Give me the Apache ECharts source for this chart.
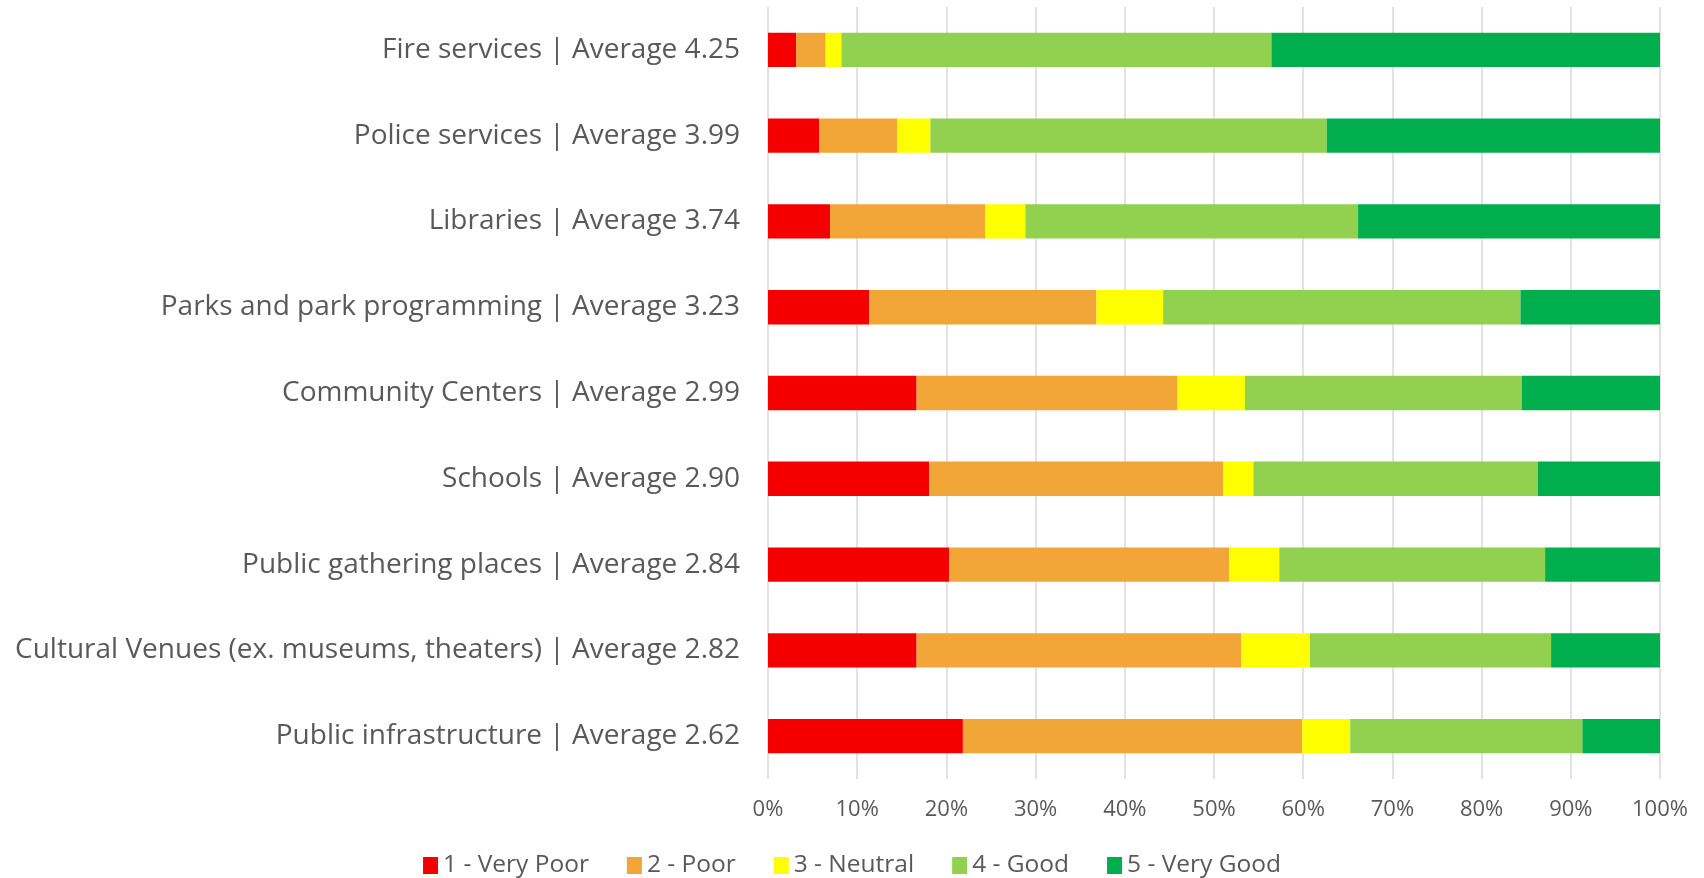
<!DOCTYPE html>
<html>
<head>
<meta charset="utf-8">
<script src="https://cdn.jsdelivr.net/npm/echarts@6/dist/echarts.min.js"></script>
<style>
html,body{margin:0;padding:0;background:#fff;}
#chart{width:1704px;height:878px;}
</style>
</head>
<body>
<div id="chart"></div>
<script>
const categories = [
  "Fire services | Average 4.25",
  "Police services | Average 3.99",
  "Libraries | Average 3.74",
  "Parks and park programming | Average 3.23",
  "Community Centers | Average 2.99",
  "Schools | Average 2.90",
  "Public gathering places | Average 2.84",
  "Cultural Venues (ex. museums, theaters) | Average 2.82",
  "Public infrastructure | Average 2.62"
];
const seriesNames = ["1 - Very Poor", "2 - Poor", "3 - Neutral", "4 - Good", "5 - Very Good"];
const veryPoor = [3.17, 5.73, 6.95, 11.33, 16.66, 18.07, 20.30, 16.66, 21.85];
const poor     = [3.30, 8.77, 17.39, 25.49, 29.26, 32.97, 31.42, 36.41, 38.03];
const neutral  = [1.76, 3.71, 4.52, 7.48, 7.55, 3.38, 5.60, 7.69, 5.39];
const good     = [48.21, 44.43, 37.29, 40.06, 31.02, 31.89, 29.80, 27.03, 26.03];
const veryGood = [43.56, 37.36, 33.85, 15.64, 15.51, 13.69, 12.88, 12.21, 8.70];
const colors = ["#F40000", "#F2A638", "#FFFF00", "#92D050", "#00AE4E"];
const xTicks = [0, 10, 20, 30, 40, 50, 60, 70, 80, 90, 100];

const dataSets = [veryPoor, poor, neutral, good, veryGood];
const FONT = "Open Sans";
const chart = echarts.init(document.getElementById('chart'));
chart.setOption({
  animation: false,
  color: colors,
  grid: { left: 768, right: 44, top: 7, bottom: 99, containLabel: false },
  legend: {
    bottom: -5,
    left: 'center',
    itemWidth: 15,
    itemHeight: 17,
    itemGap: 38,
    icon: 'rect',
    textStyle: { fontFamily: FONT, fontSize: 24.5, color: '#595959' },
    data: seriesNames
  },
  xAxis: {
    type: 'value',
    min: xTicks[0],
    max: xTicks[xTicks.length - 1],
    interval: 10,
    axisLine: { show: false },
    axisTick: { show: false },
    splitLine: { show: true, lineStyle: { color: '#D9D9D9', width: 1.5 } },
    axisLabel: { formatter: '{value}%', fontFamily: FONT, fontSize: 22, color: '#595959', margin: 20 }
  },
  yAxis: {
    type: 'category',
    inverse: true,
    data: categories,
    axisLine: { show: false },
    axisTick: { show: false },
    axisLabel: { fontFamily: FONT, fontSize: 28, color: '#595959', margin: 28 }
  },
  series: seriesNames.map((n, i) => ({
    name: n,
    type: 'bar',
    stack: 'total',
    barCategoryGap: '60%',
    data: dataSets[i],
    itemStyle: { color: colors[i] }
  }))
});
</script>
</body>
</html>
